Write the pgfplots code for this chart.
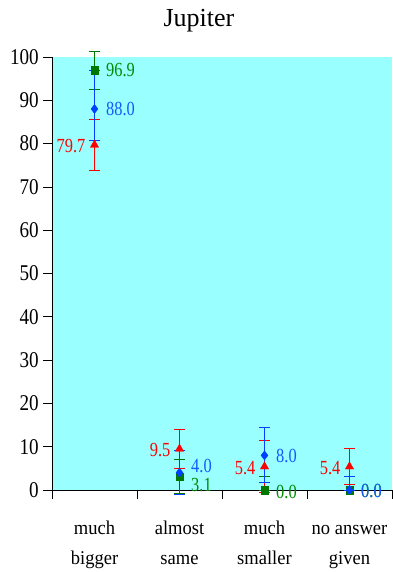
\documentclass[border=0pt]{standalone}
\usepackage{fontspec}
\setmainfont{Liberation Serif}
\newfontfamily\tickfont{Liberation Serif}[FakeStretch=0.85]
\newfontfamily\labfont{Liberation Serif}[FakeStretch=0.82]
\newfontfamily\catfont{Liberation Serif}[FakeStretch=0.95]
\usepackage{pgfplots}
\usepackage{pgfplotstable}
\pgfplotsset{compat=1.18}
\definecolor{bgcyan}{RGB}{153,255,255}
\definecolor{mred}{RGB}{255,0,0}
\definecolor{mblue}{RGB}{0,64,255}
\definecolor{mgreen}{RGB}{0,120,0}
\definecolor{tblue}{RGB}{20,90,255}
\definecolor{tgreen}{RGB}{0,140,0}

\pgfplotstableread{
x y ep em lab dy
0 96.9 4.3 4.3 96.9 0
1 3.1 4.0 4.0 3.1 -8
2 0.0 3.1 0 0.0 -1.5
3 0.0 0 0 0.0 -1
}\greendata
\pgfplotstableread{
x y ep em lab dy
0 79.7 5.8 5.8 79.7 -1.5
1 9.5 4.6 4.6 9.5 -1.5
2 5.4 6.0 6.0 5.4 -1
3 5.4 4.2 4.2 5.4 -1
}\reddata
\pgfplotstableread{
x y ep em lab dy
0 88.0 8.8 7.3 88.0 0
1 4.0 5.1 5.1 4.0 7
2 8.0 6.5 6.3 8.0 -1
3 0.0 3.1 0 0.0 -1
}\bluedata

\begin{document}
\begin{tikzpicture}
\path[use as bounding box] (0,0) rectangle (392pt,572pt);
\node[anchor=base, font=\fontsize{26}{26}\selectfont] at (199pt,545pt) {Jupiter};
\begin{axis}[
  at={(52pt,82pt)}, anchor=south west,
  scale only axis, width=340pt, height=433pt,
  xmin=-0.5, xmax=3.5, ymin=0, ymax=100,
  clip=false,
  axis lines*=left,
  axis line style={black, line width=0.8pt},
  axis background/.style={fill=bgcyan},
  tick align=outside, major tick length=9pt,
  tick style={black, line width=0.7pt},
  ytick={0,10,...,100},
  /pgf/number format/assume math mode=true,
  yticklabel style={font=\fontsize{22.5}{22.5}\tickfont, anchor=east, inner sep=0pt, xshift=-4pt},
  xtick={-0.5,0.5,1.5,2.5,3.5},
  xticklabels={},
  extra x ticks={0,1,2,3},
  extra x tick labels={{\strut much\\bigger},{\strut almost\\same},{\strut much\\smaller},{\strut no answer\\given}},
  extra x tick style={major tick length=0pt, xticklabel style={font=\fontsize{19.5}{30}\catfont, align=center, anchor=north, inner sep=0pt, yshift=-23pt}},
]
% green
\addplot[only marks, mark=square*, mark size=3.8pt, mark options={fill=mgreen, draw=mgreen},
  error bars/.cd, y dir=both, y explicit,
  error bar style={line width=0.8pt, mgreen},
  error mark options={rotate=90, mark size=5.5pt, line width=0.8pt, mgreen}]
  table[x=x, y=y, y error plus=ep, y error minus=em] {\greendata};
% red
\addplot[only marks, mark=triangle*, mark size=4.8pt, mark options={fill=mred, draw=mred},
  error bars/.cd, y dir=both, y explicit,
  error bar style={line width=0.8pt, mred},
  error mark options={rotate=90, mark size=5.5pt, line width=0.8pt, mred}]
  table[x=x, y=y, y error plus=ep, y error minus=em] {\reddata};
% blue
\addplot[only marks, mark=diamond*, mark size=4.6pt, mark options={fill=mblue, draw=mblue},
  error bars/.cd, y dir=both, y explicit,
  error bar style={line width=0.8pt, mblue},
  error mark options={rotate=90, mark size=5.5pt, line width=0.8pt, mblue}]
  table[x=x, y=y, y error plus=ep, y error minus=em] {\bluedata};
% labels
\addplot[only marks, mark=none, point meta=explicit symbolic,
  visualization depends on={\thisrow{dy}\as\dy},
  nodes near coords,
  every node near coord/.append style={anchor=west, inner sep=0pt, xshift=11.5pt, yshift=\dy pt, text=tgreen, font=\fontsize{20}{20}\labfont}]
  table[x=x, y=y, meta=lab] {\greendata};
\addplot[only marks, mark=none, point meta=explicit symbolic,
  visualization depends on={\thisrow{dy}\as\dy},
  nodes near coords,
  every node near coord/.append style={anchor=east, inner sep=0pt, xshift=-9pt, yshift=\dy pt, text=mred, font=\fontsize{20}{20}\labfont}]
  table[x=x, y=y, meta=lab] {\reddata};
\addplot[only marks, mark=none, point meta=explicit symbolic,
  visualization depends on={\thisrow{dy}\as\dy},
  nodes near coords,
  every node near coord/.append style={anchor=west, inner sep=0pt, xshift=11.5pt, yshift=\dy pt, text=tblue, font=\fontsize{20}{20}\labfont}]
  table[x=x, y=y, meta=lab] {\bluedata};
\end{axis}
\end{tikzpicture}
\end{document}
